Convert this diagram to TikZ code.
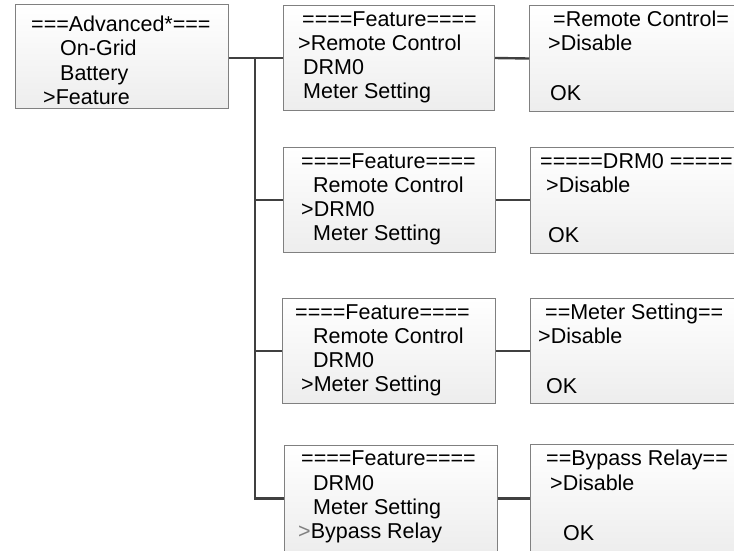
\documentclass[tikz,border=0pt]{standalone}
\usepackage{fontspec}
\setmainfont{Liberation Sans}
\definecolor{boxgray}{HTML}{808080}
\definecolor{boxfill}{HTML}{EDEDED}
\definecolor{conngray}{HTML}{404040}
\begin{document}
\begin{tikzpicture}[x=1pt,y=-1pt,
  box/.style={draw=boxgray, line width=1pt, top color=white, bottom color=boxfill,
              anchor=north west, inner sep=0pt, rectangle},
  conn/.style={draw=conngray, line width=2.4pt},
  txt/.style={anchor=base west, inner sep=0pt, font=\fontsize{21.5}{25}\selectfont}]
\useasboundingbox (0,0) rectangle (734,550);
\clip (0,0) rectangle (734,550);
% boxes
\node[box, minimum width=213pt, minimum height=104pt] (b1) at (15,4) {};
\node[box, minimum width=211pt, minimum height=105pt] (f1) at (283,5) {};
\node[box, minimum width=215pt, minimum height=106pt] (r1) at (529,5) {};
\node[box, minimum width=212pt, minimum height=105pt] (f2) at (283,147) {};
\node[box, minimum width=214pt, minimum height=106pt] (r2) at (530,147) {};
\node[box, minimum width=213pt, minimum height=105pt] (f3) at (282,298) {};
\node[box, minimum width=214pt, minimum height=105pt] (r3) at (530,298) {};
\node[box, minimum width=213pt, minimum height=106pt] (f4) at (284,445) {};
\node[box, minimum width=214pt, minimum height=108pt] (r4) at (530,444) {};
% connectors
\coordinate (tr) at (255,58);
\draw[conn] (b1.east |- tr) -- (tr) -- (f1.west |- tr);
\draw[conn] (tr) |- (f2.west);
\draw[conn] (tr) |- (f3.west);
\draw[conn] (tr) |- (f4.west);
\draw[conn] (f1.east) -- (r1.west);
\draw[conn] (f2.east) -- (r2.west |- f2.east);
\draw[conn] (f3.east) -- (r3.west |- f3.east);
\draw[conn] (f4.east) -- (r4.west |- f4.east);
% texts box 1
\node[txt] (b1t1) at (31,31) {===Advanced*===};
\node[txt] (b1t2) at (60,55) {On-Grid};
\node[txt] (b1t3) at (60,80) {Battery};
\node[txt] (b1t4) at (43,104) {>Feature};
% row 1
\node[txt] (f1t1) at (302,26) {====Feature====};
\node[txt] (f1t2) at (298,50) {>Remote Control};
\node[txt] (f1t3) at (303,74) {DRM0};
\node[txt] (f1t4) at (303,98) {Meter Setting};
\node[txt] (r1t1) at (553,26) {=Remote Control=};
\node[txt] (r1t2) at (548,50) {>Disable};
\node[txt] (r1t3) at (550,100) {OK};
% row 2
\node[txt] (f2t1) at (301,168) {====Feature====};
\node[txt] (f2t2) at (313,192) {Remote Control};
\node[txt] (f2t3) at (301,216) {>DRM0};
\node[txt] (f2t4) at (313,240) {Meter Setting};
\node[txt] (r2t1) at (540,168) {=====DRM0 =====};
\node[txt] (r2t2) at (546,192) {>Disable};
\node[txt] (r2t3) at (548,242) {OK};
% row 3
\node[txt] (f3t1) at (295,319) {====Feature====};
\node[txt] (f3t2) at (313,343) {Remote Control};
\node[txt] (f3t3) at (313,367) {DRM0};
\node[txt] (f3t4) at (301,391) {>Meter Setting};
\node[txt] (r3t1) at (545,319) {==Meter Setting==};
\node[txt] (r3t2) at (538,343) {>Disable};
\node[txt] (r3t3) at (546,393) {OK};
% row 4
\node[txt] (f4t1) at (301,465) {====Feature====};
\node[txt] (f4t2) at (313,490) {DRM0};
\node[txt] (f4t3) at (313,514) {Meter Setting};
\node[txt] (f4t4) at (298,538) {{\color{gray}>}Bypass Relay};
\node[txt] (r4t1) at (546,465) {==Bypass Relay==};
\node[txt] (r4t2) at (550,490) {>Disable};
\node[txt] (r4t3) at (563,540) {OK};
\end{tikzpicture}
\end{document}
